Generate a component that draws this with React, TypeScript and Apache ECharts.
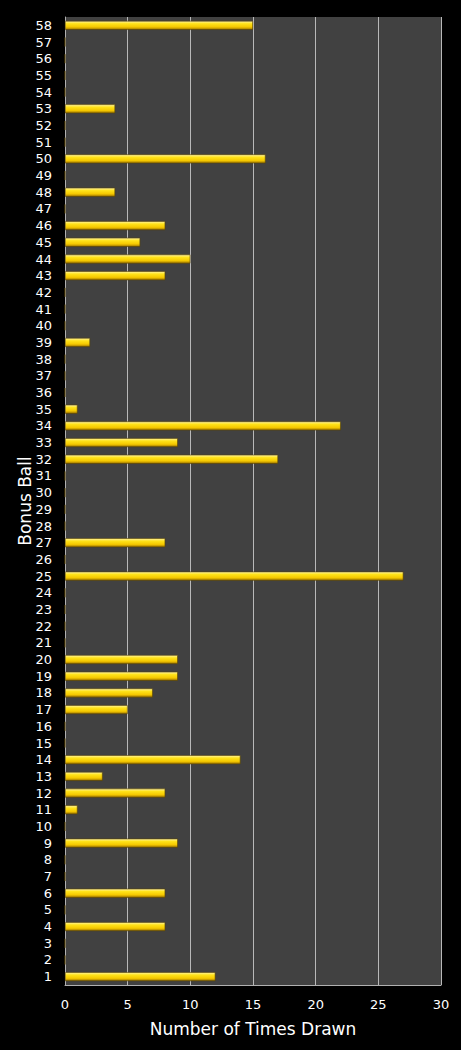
import React, { useEffect, useRef } from "react";
import * as echarts from "echarts";

const balls: string[] = Array.from({ length: 58 }, (_, i) => String(i + 1));

// times drawn per bonus ball (1..58)
const drawnBalls = [1, 4, 6, 9, 11, 12, 13, 14, 17, 18, 19, 20, 25, 27, 32, 33, 34, 35, 39, 43, 44, 45, 46, 48, 50, 53, 58];
const drawnCounts = [12, 8, 8, 9, 1, 8, 3, 14, 5, 7, 9, 9, 27, 8, 17, 9, 22, 1, 2, 8, 10, 6, 8, 4, 16, 4, 15];

const xTicks = [0, 5, 10, 15, 20, 25, 30];

const counts: number[] = balls.map((b) => {
  const idx = drawnBalls.indexOf(Number(b));
  return idx >= 0 ? drawnCounts[idx] : 0;
});

const App: React.FC = () => {
  const chartRef = useRef<HTMLDivElement>(null);

  useEffect(() => {
    if (!chartRef.current) return;
    document.body.style.margin = "0";
    document.body.style.background = "#000";
    const chart = echarts.init(chartRef.current, null, { renderer: "svg" });

    const font = "'DejaVu Sans', Verdana, sans-serif";

    const option: any = {
      animation: false,
      backgroundColor: "#000000",
      grid: {
        left: 65,
        right: 20,
        top: 17,
        bottom: 65,
        show: true,
        backgroundColor: "#414141",
        borderWidth: 0,
      },
      xAxis: {
        type: "value",
        min: xTicks[0],
        max: xTicks[xTicks.length - 1],
        interval: 5,
        name: "Number of Times Drawn",
        nameLocation: "middle",
        nameGap: 35,
        nameMoveOverlap: false,
        nameTextStyle: { color: "#ffffff", fontSize: 17, fontFamily: font },
        axisLine: { show: true, lineStyle: { color: "#b0b0b0", width: 1 } },
        axisTick: { show: false },
        axisLabel: { color: "#ffffff", fontSize: 13, fontFamily: font, margin: 13 },
        splitLine: { show: true, lineStyle: { color: "#b8b8b8", width: 1 } },
      },
      yAxis: {
        type: "category",
        data: balls,
        name: "Bonus Ball",
        nameLocation: "middle",
        nameGap: 32,
        nameMoveOverlap: false,
        nameTextStyle: { color: "#ffffff", fontSize: 17, fontFamily: font },
        axisLine: { show: true, lineStyle: { color: "#b0b0b0", width: 1 } },
        axisTick: { show: false },
        axisLabel: { color: "#ffffff", fontSize: 13, fontFamily: font, margin: 13, interval: 0 },
        splitLine: { show: false },
      },
      series: [
        {
          type: "bar",
          data: counts,
          barWidth: "54%",
          itemStyle: {
            color: new echarts.graphic.LinearGradient(0, 0, 0, 1, [
              { offset: 0, color: "#fff4a8" },
              { offset: 0.3, color: "#ffe31a" },
              { offset: 0.7, color: "#f5c800" },
              { offset: 1, color: "#9c7400" },
            ]),
            borderColor: "#5a4500",
            borderWidth: 0.6,
          },
        },
      ],
    };

    chart.setOption(option);
    return () => {
      chart.dispose();
    };
  }, []);

  return <div ref={chartRef} style={{ width: "461px", height: "1050px" }} />;
};

export default App;
